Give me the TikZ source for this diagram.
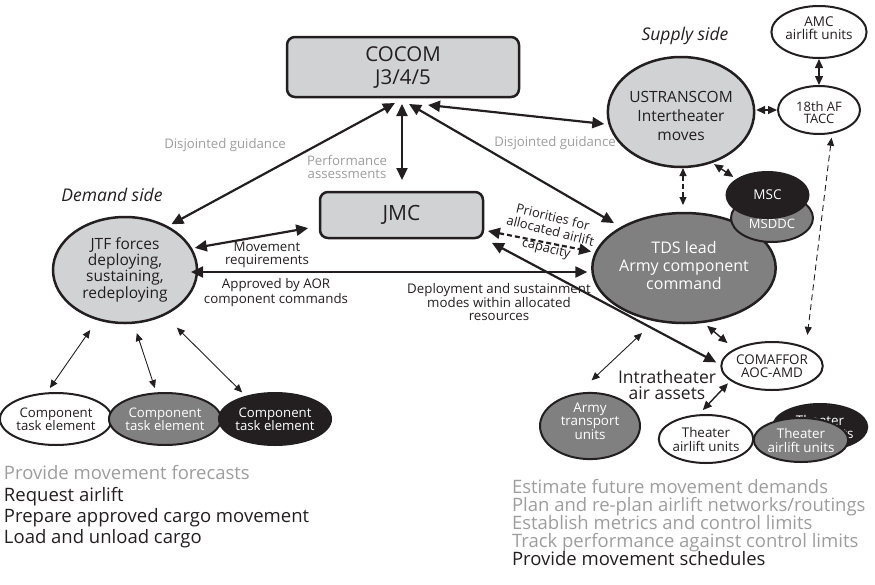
\documentclass[tikz,border=0pt]{standalone}
\usepackage{fontspec}
\setmainfont{Open Sans}
\usetikzlibrary{arrows.meta,shapes.geometric}
\definecolor{lg}{HTML}{D1D2D4}
\definecolor{dg}{HTML}{808080}
\definecolor{bk}{HTML}{231F20}
\definecolor{tg}{HTML}{9D9D9D}
\newcommand\fsz[2]{\fontsize{#1}{#2}\selectfont}
\begin{document}
\begin{tikzpicture}[x=1pt,y=-1pt,
  every node/.style={inner sep=0pt,outer sep=0pt,align=center,text=bk},
  ell/.style={ellipse,draw=bk,line width=2pt},
  bigell/.style={ellipse,draw=bk,line width=2.5pt},
  rbox/.style={draw=bk,line width=2.5pt,fill=lg,rounded corners=8pt},
  thickarr/.style={line width=2.2pt,draw=bk,{Triangle[length=12pt,width=11pt]}-{Triangle[length=12pt,width=11pt]}},
  midarr/.style={line width=1.4pt,draw=bk,{Triangle[length=9pt,width=8pt]}-{Triangle[length=9pt,width=8pt]}},
  thinarr/.style={line width=0.9pt,draw=bk,{Triangle[length=8pt,width=7pt]}-{Triangle[length=8pt,width=7pt]}},
  lbl/.style={font=\fsz{13.3}{12.5}},
  priolbl/.style={rotate=-14,font=\fsz{13}{13}},
  glbl/.style={text=tg,font=\fsz{13.2}{13}},
  side/.style={font=\fsz{17.5}{20}\itshape},
  bottomtxt/.style={anchor=base west,font=\fsz{18.5}{20}}
]
\useasboundingbox (0,0) rectangle (875,584);

% main nodes
\node[rbox,minimum width=232pt,minimum height=60pt,font=\fsz{20.5}{23}] (cocom) at (403,67) {COCOM\\J3/4/5};
\node[rbox,minimum width=163pt,minimum height=46pt,font=\fsz{21}{23}] (jmc) at (401.5,215) {JMC};
\node[bigell,fill=lg,minimum width=144pt,minimum height=106pt,font=\fsz{15.5}{14.2}] (jtf) at (125,270) {JTF forces\\deploying,\\sustaining,\\redeploying};
\node[bigell,fill=lg,minimum width=128pt,minimum height=110pt,font=\fsz{15.5}{19}] (ustc) at (681,112) {\rule{0pt}{19pt}USTRANSCOM\\Intertheater\\moves};
\node[bigell,fill=dg,text=white,minimum width=142pt,minimum height=110pt,font=\fsz{16}{18}] (tds) at (684,268) {TDS lead\\Army component\\command\rule[-6pt]{0pt}{6pt}};

% supply side small nodes
\node[ell,fill=white,minimum width=82pt,minimum height=52pt,font=\fsz{13.5}{13}] (amc) at (819,32) {AMC\\airlift units\rule[-8pt]{0pt}{8pt}};
\node[ell,fill=white,minimum width=82pt,minimum height=48pt,font=\fsz{13}{12.5}] (tacc) at (819,110) {\rule{0pt}{15pt}18th AF\\TACC};
\node[ell,fill=dg,minimum width=82pt,minimum height=48pt] (msddc) at (772,218) {};
\node[text=white,font=\fsz{13}{13}] (msddctxt) at (772,224) {MSDDC};
\node[ell,fill=bk,text=white,minimum width=82pt,minimum height=46pt,font=\fsz{13.5}{13}] (msc) at (767.5,195) {MSC};
\node[ell,fill=white,minimum width=100pt,minimum height=48pt,font=\fsz{13.4}{13.3}] (comaffor) at (772,366) {COMAFFOR\\AOC-AMD};
\node[ell,fill=dg,text=white,minimum width=100pt,minimum height=54pt,font=\fsz{13.4}{13.6}] (army) at (590,426) {Army\\transport\\units\rule[-10pt]{0pt}{10pt}};
\node[ell,fill=white,minimum width=88pt,minimum height=48pt,font=\fsz{13.4}{14}] (th1) at (706,439) {Theater\\airlift units};
\node[ell,fill=bk,text=white,minimum width=94pt,minimum height=46pt,font=\fsz{13.4}{13}] (th3) at (820,427) {Theater\\airlift units};
\node[ell,fill=dg,text=white,minimum width=84pt,minimum height=44pt,font=\fsz{13.4}{14}] (th2) at (801,440) {Theater\\airlift units};

% demand side small nodes
\node[ell,fill=white,minimum width=98pt,minimum height=52pt,font=\fsz{13.2}{13.3}] (cte1) at (56,419) {Component\\task element};
\node[ell,fill=dg,text=white,minimum width=96pt,minimum height=52pt,font=\fsz{13.2}{13.3}] (cte2) at (165,419) {Component\\task element};
\node[ell,fill=bk,text=white,minimum width=100pt,minimum height=52pt,font=\fsz{13.2}{13.3}] (cte3) at (275,419) {Component\\task element};

% connectors
\draw[thickarr,shorten <=12.6pt,shorten >=5.3pt] ([xshift=3pt]cocom.south) -- (jtf.46);
\draw[thickarr,shorten <=7pt,shorten >=12pt] ([xshift=-1pt]cocom.south) -- ([xshift=0.5pt]jmc.north);
\draw[thickarr,shorten <=13.9pt,shorten >=9pt] ([xshift=-6pt]cocom.south) -- (tds.147);
\draw[thickarr,shorten >=5.5pt] ([xshift=25pt,yshift=-8pt]cocom.south) -- (ustc.190);
\draw[thickarr,shorten <=4pt,shorten >=12pt] (jtf.18) -- ([yshift=-11pt]jmc.west);
\draw[thickarr,shorten <=-6pt,shorten >=5pt] ([yshift=-2pt]jtf.east) -- ([yshift=-4pt]tds.west);
\draw[thickarr,dash pattern=on 5pt off 3pt,shorten <=5pt,shorten >=5pt] ([yshift=-15pt]jmc.east) -- (tds.170);
\draw[thickarr,shorten <=10pt,shorten >=5.8pt] (jmc.south east) -- (comaffor.179);

\draw[thinarr,dash pattern=on 5pt off 3pt,line width=1.1pt,shorten <=1pt,shorten >=8pt] ([xshift=2pt]ustc.south) -- ([xshift=-1pt]tds.north);
\draw[midarr,shorten <=3.5pt,shorten >=4.7pt] (ustc.-59) -- (msc.153);
\draw[midarr,shorten <=2pt,shorten >=1pt] ([yshift=2pt]ustc.east) -- (tacc.west);
\draw[midarr,shorten <=1pt,shorten >=1pt] (amc.south) -- (tacc.north);
\draw[thinarr,dash pattern=on 6pt off 4pt,shorten <=5pt,shorten >=13.3pt] (tacc.-60) -- (comaffor.28);
\draw[midarr,shorten <=6pt,shorten >=10pt] (tds.-71) -- (comaffor.156);
\draw[midarr,shorten <=4.4pt,shorten >=7.3pt] (comaffor.199) -- (th1.109);
\coordinate (armyend) at (642,333);
\draw[thinarr,shorten >=20pt] (armyend) -- (army.112);

\draw[thinarr,shorten <=13.3pt,shorten >=6.5pt] (jtf.241) -- (cte1.111);
\draw[thinarr,shorten <=11pt,shorten >=5.5pt] (jtf.-81) -- (cte2.108);
\draw[thinarr,shorten <=18.5pt,shorten >=6pt] (jtf.-49) -- (cte3.142);

% labels
\node[glbl] (dgl) at (225,145) {Disjointed guidance};
\node[glbl] (dgr) at (555,143) {Disjointed guidance};
\node[glbl] (perf) at (347,167.5) {Performance\\assessments};
\node[lbl] (movreq) at (267,255) {Movement\\requirements};
\node[lbl] (appr) at (276,292.5) {Approved by AOR\\component commands};
\node[lbl] (deploy) at (499,302) {Deployment and sustainment\\modes within allocated\\resources};
\node[priolbl] (prio1) at (553,216.5) {Priorities for};
\node[priolbl] (prio2) at (550.5,230.5) {allocated airlift};
\node[priolbl] (prio3) at (546,249) {capacity};
\node[side] (demand) at (112,195) {Demand side};
\node[side] (supply) at (685,36) {Supply side};
\node[font=\fsz{17.5}{16.5}] (intra) at (667,385) {Intratheater\\air assets};

% bottom texts
\node[bottomtxt,text=tg] (bl1) at (4,479) {Provide movement forecasts};
\node[bottomtxt] (bl2) at (4,501) {Request airlift};
\node[bottomtxt] (bl3) at (4,522) {Prepare approved cargo movement};
\node[bottomtxt] (bl4) at (4,543) {Load and unload cargo};
\node[bottomtxt,text=tg] (br1) at (512,493.5) {Estimate future movement demands};
\node[bottomtxt,text=tg] (br2) at (512,511.5) {Plan and re-plan airlift networks/routings};
\node[bottomtxt,text=tg] (br3) at (512,529.5) {Establish metrics and control limits};
\node[bottomtxt,text=tg] (br4) at (512,547.5) {Track performance against control limits};
\node[bottomtxt] (br5) at (512,565.5) {Provide movement schedules};
\end{tikzpicture}
\end{document}
